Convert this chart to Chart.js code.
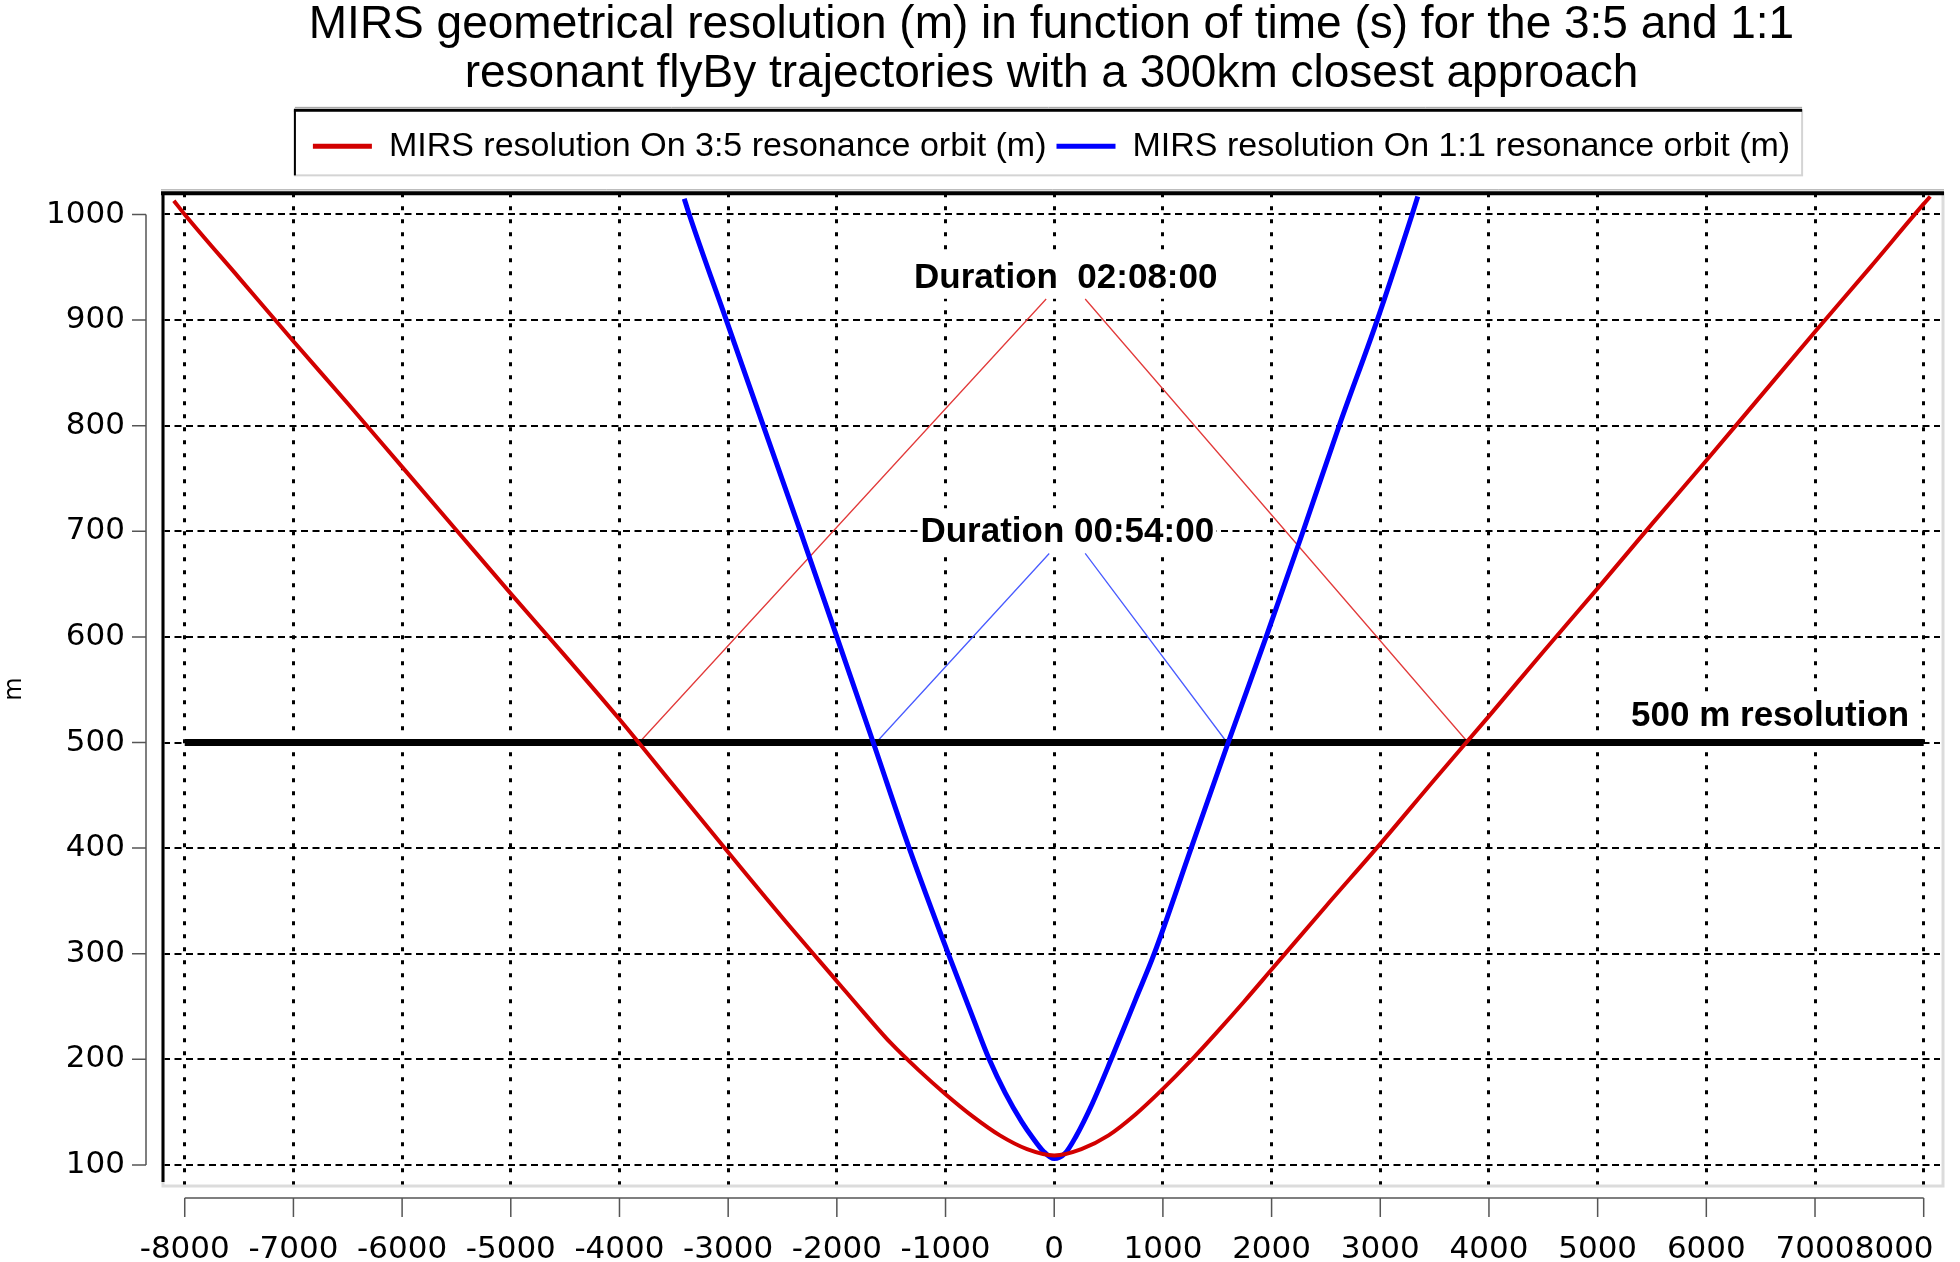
<!DOCTYPE html>
<html>
<head>
<meta charset="utf-8">
<title>MIRS geometrical resolution</title>
<script src="https://cdn.jsdelivr.net/npm/chart.js@4.4.1/dist/chart.umd.min.js"></script>
<style>
  html, body { margin: 0; padding: 0; background: #fff; }
  canvas { display: block; }
</style>
</head>
<body>
<canvas id="mirs-chart" width="1960" height="1262"></canvas>
<script>
// values: time (s) -> resolution (m)
const redTime = [-8100, -8000, -7500, -7000, -6500, -6000, -5500, -5000, -4500, -4000, -3500, -3000, -2500, -2000, -1750, -1500, -1250, -1000, -750, -500, -250, 0, 250, 500, 750, 1000, 1250, 1500, 1750, 2000, 2500, 3000, 3500, 4000, 4500, 5000, 5500, 6000, 6500, 7000, 7500, 8000, 8060];
const redRes = [1013, 1000, 940, 880, 821, 761, 701, 641, 582, 522, 459, 396, 334, 274, 244, 215, 190, 167, 146, 128, 115, 109, 115, 128, 148, 172, 198, 226, 255, 285, 345, 404, 465, 525, 586, 646, 707, 767, 828, 889, 949, 1010, 1017];

const blueTime = [-3404, -3358, -3017, -2677, -2335, -2000, -1665, -1334, -975, -750, -598, -450, -300, -200, -100, 0, 100, 200, 350, 524, 750, 920, 1260, 1601, 1950, 2290, 2622, 2972, 3293, 3345];
const blueRes = [1015, 1000, 900, 800, 700, 600, 500, 400, 300, 240, 200, 168, 141, 126, 113, 106, 111, 127, 158, 200, 257, 300, 400, 500, 600, 700, 800, 900, 1000, 1017];

// 500 m limit
const limitTime = [-8000, 8000];
const limitRes = [500, 500];

// thin guide lines to the duration labels (null = gap under the label)
const redGuideTime = [-3818, -74, 105, 285, 3808];
const redGuideRes = [500, 920, null, 920, 500];
const blueGuideTime = [-1638, -46, 120, 285, 1590];
const blueGuideRes = [500, 679, null, 679, 500];

const noteTexts = ['Duration  02:08:00', 'Duration 00:54:00', '500 m resolution'];
const noteTime = [106, 120, 6587];
const noteRes = [941, 701, 527];

const seriesNames = ['MIRS resolution On 3:5 resonance orbit (m)', 'MIRS resolution On 1:1 resonance orbit (m)'];
const seriesColors = ['#d20000', '#0000ff'];

const xTicks = [-8000, -7000, -6000, -5000, -4000, -3000, -2000, -1000, 0, 1000, 2000, 3000, 4000, 5000, 6000, 7000, 8000];
const yTicks = [100, 200, 300, 400, 500, 600, 700, 800, 900, 1000];

const toPoints = (xs, ys) => xs.map((x, i) => ({ x: x, y: ys[i] }));

const chartDecor = {
    id: 'chartDecor',
    beforeDatasetsDraw(chart) {
        const { ctx, scales } = chart;
        ctx.save();
        ctx.font = 'bold 35px "Liberation Sans"';
        ctx.textAlign = 'center';
        ctx.textBaseline = 'middle';
        noteTexts.forEach((text, i) => {
            const px = scales.x.getPixelForValue(noteTime[i]);
            const py = scales.y.getPixelForValue(noteRes[i]);
            const w = ctx.measureText(text).width + 4;
            ctx.fillStyle = '#fff';
            ctx.fillRect(px - w / 2, py - 22, w, 44);
            ctx.fillStyle = '#000';
            ctx.fillText(text, px, py + 2);
        });
        ctx.restore();
    },
    afterDraw(chart) {
        const { ctx, chartArea, scales, legend } = chart;
        const { left, right, top, bottom } = chartArea;
        ctx.save();

        // plot frame
        ctx.lineWidth = 3;
        ctx.strokeStyle = '#dcdcdc';
        ctx.strokeRect(left, top, right - left + 3, bottom - top + 1);
        ctx.strokeStyle = '#9a9a9a';
        ctx.lineWidth = 1;
        ctx.beginPath();
        ctx.moveTo(left - 2, top - 3.5);
        ctx.lineTo(right + 4, top - 3.5);
        ctx.stroke();
        ctx.strokeStyle = '#000';
        ctx.lineWidth = 4;
        ctx.beginPath();
        ctx.moveTo(left - 2, top);
        ctx.lineTo(right + 4, top);
        ctx.stroke();
        ctx.lineWidth = 3;
        ctx.beginPath();
        ctx.moveTo(left, top);
        ctx.lineTo(left, bottom - 3);
        ctx.stroke();

        // detached axes
        ctx.strokeStyle = '#555';
        ctx.lineWidth = 1.5;
        const ax = left - 17;
        const yTop = scales.y.getPixelForValue(yTicks[yTicks.length - 1]);
        const yBot = scales.y.getPixelForValue(yTicks[0]);
        ctx.beginPath();
        ctx.moveTo(ax, yTop);
        ctx.lineTo(ax, yBot);
        yTicks.forEach((v) => {
            const py = scales.y.getPixelForValue(v);
            ctx.moveTo(ax - 14, py);
            ctx.lineTo(ax, py);
        });
        ctx.stroke();

        const ay = bottom + 13;
        const xLeft = scales.x.getPixelForValue(xTicks[0]);
        const xRight = scales.x.getPixelForValue(xTicks[xTicks.length - 1]);
        ctx.beginPath();
        ctx.moveTo(xLeft, ay);
        ctx.lineTo(xRight, ay);
        xTicks.forEach((v) => {
            const px = scales.x.getPixelForValue(v);
            ctx.moveTo(px, ay);
            ctx.lineTo(px, ay + 19);
        });
        ctx.stroke();

        // legend frame
        const boxes = legend.legendHitBoxes;
        if (boxes && boxes.length) {
            const l = Math.min(...boxes.map((b) => b.left)) - 18;
            const r = Math.max(...boxes.map((b) => b.left + b.width)) + 12;
            const mid = boxes[0].top + boxes[0].height / 2;
            const t = mid - 36;
            const b = mid + 29;
            ctx.strokeStyle = '#d4d4d4';
            ctx.lineWidth = 2;
            ctx.strokeRect(l, t, r - l, b - t);
            ctx.strokeStyle = '#9a9a9a';
            ctx.lineWidth = 1;
            ctx.beginPath();
            ctx.moveTo(l, t - 3);
            ctx.lineTo(r, t - 3);
            ctx.stroke();
            ctx.strokeStyle = '#000';
            ctx.lineWidth = 3;
            ctx.beginPath();
            ctx.moveTo(l - 1, t);
            ctx.lineTo(r, t);
            ctx.stroke();
            ctx.lineWidth = 2;
            ctx.beginPath();
            ctx.moveTo(l, t);
            ctx.lineTo(l, b);
            ctx.stroke();
        }
        ctx.restore();
    }
};

Chart.defaults.color = '#000';
Chart.defaults.font.family = '"DejaVu Sans"';

const ctx = document.getElementById('mirs-chart').getContext('2d');

new Chart(ctx, {
    type: 'line',
    data: {
        datasets: [
            {
                label: seriesNames[0],
                data: toPoints(redTime, redRes),
                borderColor: seriesColors[0],
                backgroundColor: seriesColors[0],
                borderWidth: 4,
                pointRadius: 0,
                cubicInterpolationMode: 'monotone',
            },
            {
                label: seriesNames[1],
                data: toPoints(blueTime, blueRes),
                borderColor: seriesColors[1],
                backgroundColor: seriesColors[1],
                borderWidth: 5,
                pointRadius: 0,
                cubicInterpolationMode: 'monotone',
            },
            {
                label: '500 m resolution',
                data: toPoints(limitTime, limitRes),
                borderColor: '#000',
                borderWidth: 7,
                borderCapStyle: 'butt',
                pointRadius: 0,
            },
            {
                label: 'red guide',
                data: toPoints(redGuideTime, redGuideRes),
                borderColor: '#e23b3b',
                borderWidth: 1.3,
                pointRadius: 0,
                spanGaps: false,
            },
            {
                label: 'blue guide',
                data: toPoints(blueGuideTime, blueGuideRes),
                borderColor: '#4a5cff',
                borderWidth: 1.3,
                pointRadius: 0,
                spanGaps: false,
            },
        ],
    },
    options: {
        responsive: false,
        animation: false,
        devicePixelRatio: 1,
        layout: { padding: { left: 0, right: 20, top: 0, bottom: 0 } },
        scales: {
            x: {
                type: 'linear',
                min: -8200,
                max: 8150,
                afterBuildTicks: (scale) => {
                    scale.ticks = xTicks.map((v) => ({ value: v }));
                },
                afterFit: (scale) => {
                    scale.height = 77;
                    scale.paddingLeft = 0;
                    scale.paddingRight = 0;
                },
                ticks: {
                    padding: 46,
                    maxRotation: 0,
                    autoSkip: false,
                    font: { family: '"DejaVu Sans"', size: 31 },
                    // last label is pulled inside the canvas, as in the original
                    callback: (v) => (v === xTicks[xTicks.length - 1] ? String(v) + '      ' : String(v)),
                },
                grid: {
                    color: '#000',
                    lineWidth: 3,
                    drawTicks: false,
                },
                border: { display: false, dash: [4, 9] },
            },
            y: {
                type: 'linear',
                min: 81,
                max: 1020,
                afterBuildTicks: (scale) => {
                    scale.ticks = yTicks.map((v) => ({ value: v }));
                },
                afterFit: (scale) => {
                    scale.width = 163;
                    scale.paddingTop = 0;
                    scale.paddingBottom = 0;
                },
                title: {
                    display: true,
                    text: 'm',
                    padding: 0,
                    font: { family: '"DejaVu Sans"', size: 24 },
                },
                ticks: {
                    padding: 38,
                    autoSkip: false,
                    font: { family: '"DejaVu Sans"', size: 31 },
                    callback: (v) => String(v),
                },
                grid: {
                    color: '#000',
                    lineWidth: 2,
                    drawTicks: false,
                },
                border: { display: false, dash: [7, 4.5] },
            },
        },
        plugins: {
            title: {
                display: true,
                fullSize: false,
                text: [
                    'MIRS geometrical resolution (m) in function of time (s) for the 3:5 and 1:1',
                    'resonant flyBy trajectories with a 300km closest approach',
                ],
                color: '#000',
                font: { family: '"Liberation Sans"', size: 46, weight: 'normal', lineHeight: 1.08 },
                padding: { top: 0, bottom: 20 },
            },
            subtitle: {
                display: true,
                text: ' ',
                weight: 500,
                padding: 0,
                font: { size: 20, lineHeight: 1 },
            },
            legend: {
                display: true,
                position: 'top',
                fullSize: false,
                labels: {
                    boxWidth: 59,
                    boxHeight: 5,
                    padding: 10,
                    color: '#000',
                    font: { family: '"Liberation Sans"', size: 34 },
                    generateLabels: () => seriesNames.map((name, i) => ({
                        text: name,
                        fillStyle: seriesColors[i],
                        strokeStyle: seriesColors[i],
                        lineWidth: 0,
                        hidden: false,
                        datasetIndex: i,
                    })),
                },
            },
            tooltip: { enabled: false },
        },
    },
    plugins: [chartDecor],
});
</script>
</body>
</html>
